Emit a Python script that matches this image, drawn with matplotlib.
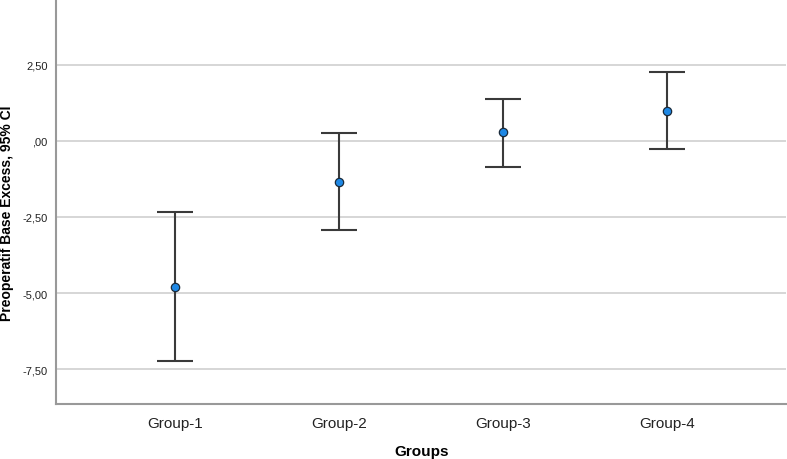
import matplotlib.pyplot as plt
from matplotlib.ticker import FuncFormatter

plt.rcParams['font.family'] = ['Liberation Sans', 'DejaVu Sans']

# Data
groups = ["Group-1", "Group-2", "Group-3", "Group-4"]
means = [-4.80, -1.35, 0.30, 0.99]
ci_low = [-7.24, -2.93, -0.86, -0.26]
ci_high = [-2.34, 0.26, 1.38, 2.27]
y_ticks = [-7.5, -5.0, -2.5, 0.0, 2.5]

fig = plt.figure(figsize=(7.87, 4.6), dpi=100)
ax = fig.add_axes([0.0712, 0.1196, 0.928, 0.8804])

x = list(range(1, len(groups) + 1))
err_low = [m - lo for m, lo in zip(means, ci_low)]
err_high = [hi - m for m, hi in zip(means, ci_high)]

ax.errorbar(x, means, yerr=[err_low, err_high], fmt='none', ecolor='#3a3a3a',
            elinewidth=1.5, capsize=13, capthick=1.5, zorder=3)
ax.plot(x, means, 'o', markersize=6, markerfacecolor='#1e88e5',
        markeredgecolor='#1a2a3a', markeredgewidth=0.9, zorder=4)

ax.set_xlim(0.274, 4.726)
ax.set_ylim(-8.65, 4.67)
ax.set_xticks(x)
ax.set_xticklabels(groups, fontsize=11, color='#222222')
ax.set_yticks(y_ticks)

def fmt(v, pos):
    s = f"{v:.2f}".replace('.', ',')
    if s.startswith('0,'):
        s = s[1:]
    return s

ax.yaxis.set_major_formatter(FuncFormatter(fmt))
ax.tick_params(axis='y', labelsize=8, length=0, pad=6, colors='#222222')
ax.tick_params(axis='x', length=0, pad=9)

ax.grid(axis='y', color='#cfcfcf', linewidth=1.2)
ax.set_axisbelow(True)

for side in ['top', 'right']:
    ax.spines[side].set_visible(False)
for side in ['left', 'bottom']:
    ax.spines[side].set_color('#999999')
    ax.spines[side].set_linewidth(1.5)

ax.set_xlabel('Groups', fontsize=11, fontweight='bold', labelpad=10)
ax.set_ylabel('Preoperatif Base Excess, 95% CI', fontsize=10, fontweight='bold')
ax.yaxis.set_label_coords(-0.0575, 0.473)

fig.savefig('out.png', dpi=100)
